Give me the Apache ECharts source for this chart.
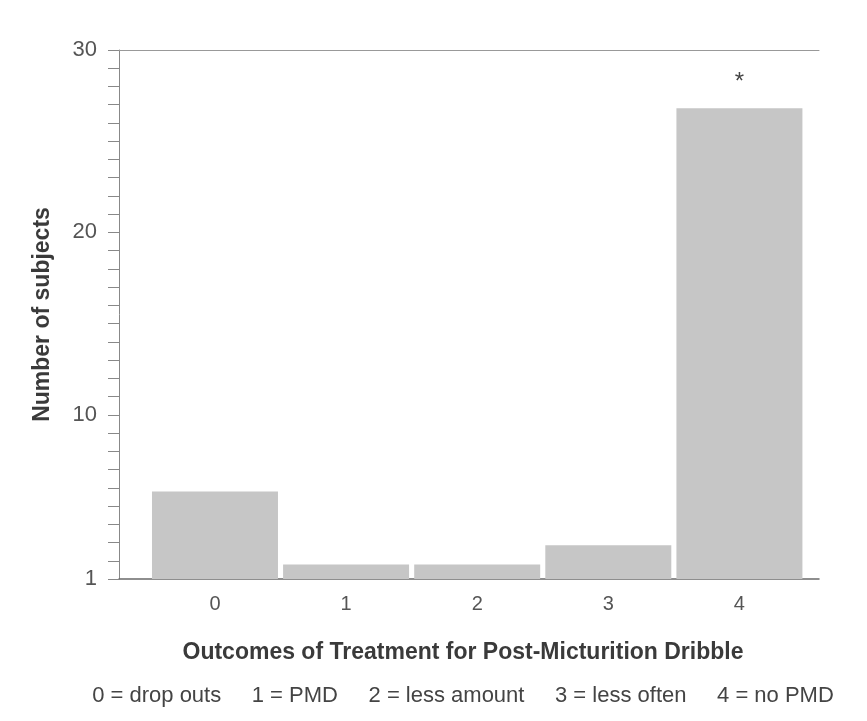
<!DOCTYPE html>
<html>
<head>
<meta charset="utf-8">
<script src="https://cdn.jsdelivr.net/npm/echarts@6/dist/echarts.min.js"></script>
<style>
  html, body { margin: 0; padding: 0; background: #fff; }
  #chart { width: 867px; height: 721px; }
</style>
</head>
<body>
<div id="chart"></div>
<script>
// outcome codes and counts
const categories = [0, 1, 2, 3, 4];
const counts = [5.8, 1.8, 1.8, 2.85, 26.8];
const marks = ["", "", "", "", "*"];
const yTickLabels = [1, 10, 20, 30];
const legendItems = ["0 = drop outs", "1 = PMD", "2 = less amount", "3 = less often", "4 = no PMD"];

const chart = echarts.init(document.getElementById("chart"), null, { renderer: "canvas" });

const barData = categories.map((c, i) => ({
  value: [c, counts[i]],
  label: marks[i]
    ? { show: true, formatter: marks[i], position: "top", distance: 14, fontSize: 24, color: "#444" }
    : { show: false },
}));

const option = {
  backgroundColor: "#fff",
  animation: false,
  textStyle: { fontFamily: "Liberation Sans, Arial, sans-serif" },
  title: [
    {
      text: "Outcomes of Treatment for Post-Micturition Dribble",
      left: 458,
      top: 636,
      textAlign: "center",
      textStyle: { fontSize: 23, fontWeight: "bold", color: "#3a3a3a" },
    },
    {
      text: legendItems.join("     "),
      left: 458,
      top: 680,
      textAlign: "center",
      textStyle: { fontSize: 22, fontWeight: "normal", color: "#444" },
    },
  ],
  grid: { left: 119, right: 48, top: 50, bottom: 142 },
  xAxis: [
    {
      type: "value",
      min: -0.732,
      max: 4.607,
      axisLine: { show: true, onZero: false, lineStyle: { color: "#6a6a6a", width: 1.5 } },
      axisTick: { show: false },
      splitLine: { show: false },
      axisLabel: {
        customValues: categories,
        color: "#555",
        fontSize: 20,
        margin: 15,
      },
    },
    {
      type: "value",
      position: "top",
      min: -0.732,
      max: 4.607,
      axisLine: { show: true, onZero: false, lineStyle: { color: "#999", width: 1 } },
      axisTick: { show: false },
      axisLabel: { show: false },
      splitLine: { show: false },
    },
  ],
  yAxis: {
    type: "value",
    min: 1,
    max: 30,
    interval: 1,
    name: "Number of subjects",
    nameLocation: "middle",
    nameGap: 65,
    nameTextStyle: { fontSize: 23, fontWeight: "bold", color: "#3a3a3a" },
    axisLine: { show: true, onZero: false, lineStyle: { color: "#888", width: 1 } },
    axisTick: { show: true, inside: false, length: 11, lineStyle: { color: "#888" } },
    splitLine: { show: false },
    axisLabel: {
      customValues: yTickLabels,
      color: "#555",
      fontSize: 22,
      margin: 22,
    },
  },
  series: [
    {
      type: "bar",
      data: barData,
      barWidth: 126,
      itemStyle: { color: "#c6c6c6" },
    },
  ],
};

chart.setOption(option);
</script>
</body>
</html>
